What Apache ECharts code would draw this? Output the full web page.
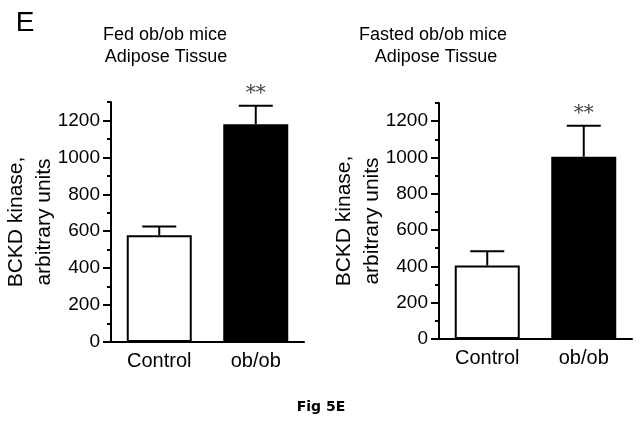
<!DOCTYPE html>
<html>
<head>
<meta charset="utf-8">
<script src="https://cdn.jsdelivr.net/npm/echarts@6/dist/echarts.min.js"></script>
<style>
  html, body { margin: 0; padding: 0; background: #fff; }
  #chart { width: 640px; height: 424px; }
</style>
</head>
<body>
<div id="chart"></div>
<script>
// data
const categories = ['Control', 'ob/ob'];
const fedMeans = [578, 1180];
const fedErrTop = [625, 1280];
const fastedMeans = [405, 1004];
const fastedErrTop = [484, 1175];
const sigLabels = ['', '**'];
const majorTicks = [0, 200, 400, 600, 800, 1000, 1200];
const minorTicks = [100, 300, 500, 700, 900, 1100, 1300];

const FONT = 'Liberation Sans, Arial, sans-serif';

const chart = echarts.init(document.getElementById('chart'));

const barColors = [
  { color: '#fff', borderColor: '#000', borderWidth: 2 },
  { color: '#000', borderColor: '#000', borderWidth: 2 }
];

const makeBars = (means, idx) => ({
  type: 'bar',
  xAxisIndex: idx,
  yAxisIndex: idx * 2,
  barWidth: 65,
  data: means.map((v, i) => ({ value: v, itemStyle: barColors[i] })),
  silent: true
});

const makeErrors = (means, tops, idx) => ({
  type: 'custom',
  xAxisIndex: idx,
  yAxisIndex: idx * 2,
  z: 5,
  silent: true,
  data: means.map((v, i) => [i, v, tops[i]]),
  renderItem: (params, api) => {
    const p0 = api.coord([api.value(0), api.value(1)]);
    const p1 = api.coord([api.value(0), api.value(2)]);
    const half = 17;
    return {
      type: 'group',
      children: [
        { type: 'line', shape: { x1: p0[0], y1: p0[1], x2: p1[0], y2: p1[1] }, style: { stroke: '#000', lineWidth: 2 } },
        { type: 'line', shape: { x1: p1[0] - half, y1: p1[1], x2: p1[0] + half, y2: p1[1] }, style: { stroke: '#000', lineWidth: 2 } },
        { type: 'text', x: p1[0], y: p1[1] - 12, style: {
          text: sigLabels[params.dataIndex], textAlign: 'center', textVerticalAlign: 'middle',
          fontFamily: 'DejaVu Serif, serif', fontSize: 20, fill: '#444'
        } }
      ]
    };
  }
});

const makeX = (idx) => ({
  type: 'category',
  gridIndex: idx,
  data: categories,
  axisLine: { lineStyle: { color: '#000', width: 2 } },
  axisTick: { alignWithLabel: true, length: 6, lineStyle: { color: '#000', width: 2 } },
  axisLabel: { color: '#000', fontFamily: FONT, fontSize: 20, margin: 9 }
});

const makeYMajor = (idx) => ({
  type: 'value',
  gridIndex: idx,
  position: 'left',
  min: 0,
  max: 1300,
  interval: 200,
  name: 'BCKD kinase,\narbitrary units',
  nameLocation: 'middle',
  nameRotate: 90,
  nameGap: 53,
  nameMoveOverlap: false,
  nameTextStyle: { color: '#000', fontFamily: FONT, fontSize: 21, lineHeight: 28 },
  splitLine: { show: false },
  axisLine: { show: true, lineStyle: { color: '#000', width: 2 } },
  axisTick: { show: true, length: 8, customValues: majorTicks, lineStyle: { color: '#000', width: 2 } },
  axisLabel: {
    color: '#000', fontFamily: FONT, fontSize: 19, margin: 11, customValues: majorTicks,
    formatter: (v) => String(v)
  }
});

const makeYMinor = (idx) => ({
  type: 'value',
  gridIndex: idx,
  position: 'left',
  min: 0,
  max: 1300,
  interval: 100,
  splitLine: { show: false },
  axisLine: { show: false },
  axisTick: { show: true, length: 4, customValues: minorTicks, lineStyle: { color: '#000', width: 2 } },
  axisLabel: { show: false }
});

const textEl = (text, x, y, size, weight, family) => ({
  type: 'text',
  x: x,
  y: y,
  style: {
    text: text, textAlign: 'center', textVerticalAlign: 'middle',
    fontFamily: family || FONT, fontSize: size, fontWeight: weight || 'normal', fill: '#000'
  }
});

chart.setOption({
  animation: false,
  grid: [
    { left: 111, top: 102, width: 193, height: 240 },
    { left: 439, top: 103, width: 193, height: 236 }
  ],
  xAxis: [makeX(0), makeX(1)],
  yAxis: [makeYMajor(0), makeYMinor(0), makeYMajor(1), makeYMinor(1)],
  graphic: [
    textEl('E', 25, 23, 28),
    textEl('Fed ob/ob mice', 165, 35, 18),
    textEl('Adipose Tissue', 166, 57, 18),
    textEl('Fasted ob/ob mice', 433, 35, 18),
    textEl('Adipose Tissue', 436, 57, 18),
    textEl('Fig 5E', 321, 407, 14, 'bold', 'DejaVu Sans')
  ],
  series: [
    makeBars(fedMeans, 0),
    makeErrors(fedMeans, fedErrTop, 0),
    makeBars(fastedMeans, 1),
    makeErrors(fastedMeans, fastedErrTop, 1)
  ]
});
</script>
</body>
</html>
